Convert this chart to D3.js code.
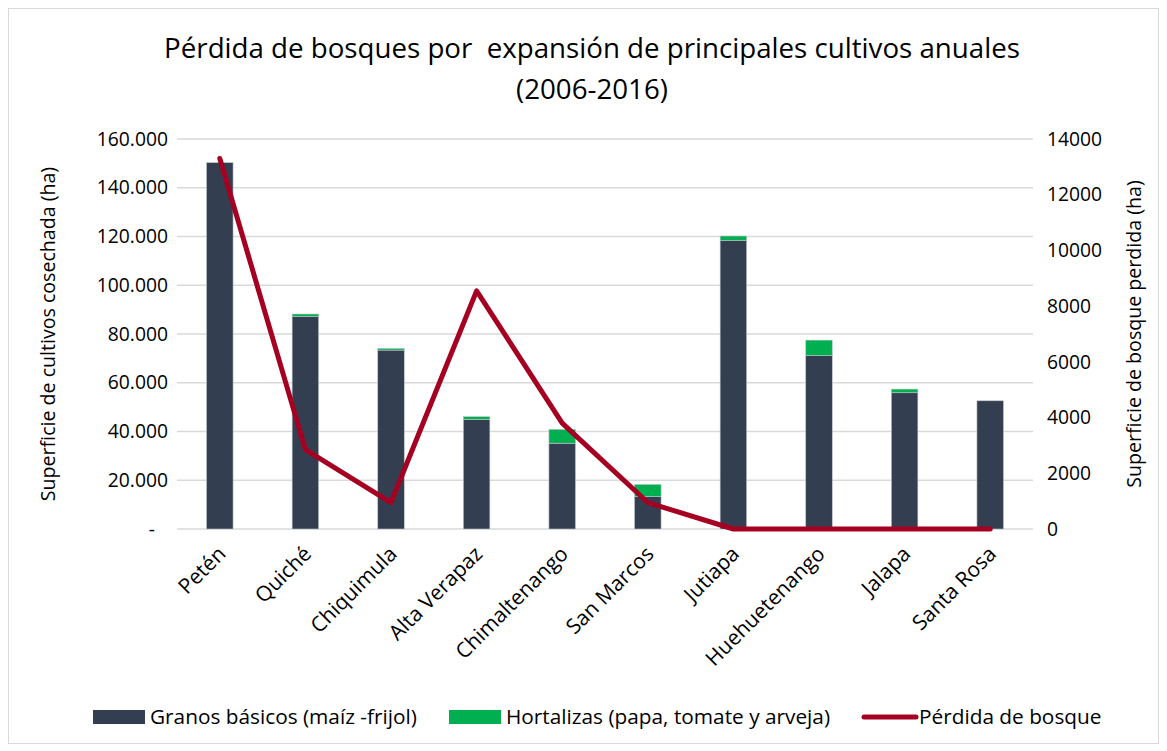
<!DOCTYPE html>
<html>
<head>
<meta charset="utf-8">
<script src="https://cdn.jsdelivr.net/npm/d3@7/dist/d3.min.js"></script>
<style>
  html, body { margin: 0; padding: 0; background: #fff; }
  svg { display: block; font-family: "Open Sans", Lato, sans-serif; }
</style>
</head>
<body>
<svg id="chart" width="1167" height="751"></svg>
<script>
// Departments, harvested area (ha) by crop group and forest loss (ha)
const categories = ["Petén", "Quiché", "Chiquimula", "Alta Verapaz", "Chimaltenango",
                    "San Marcos", "Jutiapa", "Huehuetenango", "Jalapa", "Santa Rosa"];
const granosBasicos = [150300, 87200, 73400, 45000, 35200, 13300, 118300, 71100, 55900, 52600];
const hortalizas    = [0, 1000, 700, 1100, 5700, 5000, 1900, 6400, 1500, 0];
const perdidaBosque = [13300, 2850, 950, 8550, 3800, 950, 0, 0, 0, 0];
const leftTicks  = [0, 20000, 40000, 60000, 80000, 100000, 120000, 140000, 160000];
const rightTicks = [0, 2000, 4000, 6000, 8000, 10000, 12000, 14000];
const seriesNames = ["Granos básicos (maíz -frijol)", "Hortalizas (papa, tomate y arveja)", "Pérdida de bosque"];

const colors = { granos: "#333F50", hort: "#00B050", line: "#A50021", grid: "#D9D9D9", text: "#000" };
const FONT = "'Open Sans', Lato, sans-serif";

const svg = d3.select("#chart");
const W = 1167, H = 751;
const plot = { left: 177, right: 1033, top: 139, bottom: 529 };

// Chart frame
svg.append("rect")
  .attr("x", 8.5).attr("y", 8.5).attr("width", W - 17).attr("height", H - 16)
  .attr("fill", "#fff").attr("stroke", "#D9D9D9").attr("stroke-width", 1);

const x = d3.scaleBand().domain(categories).range([plot.left, plot.right]).paddingInner(0.69).paddingOuter(0.345);
const yL = d3.scaleLinear().domain([0, 160000]).range([plot.bottom, plot.top]);
const yR = d3.scaleLinear().domain([0, 14000]).range([plot.bottom, plot.top]);

// Gridlines
svg.append("g").selectAll("line").data(leftTicks).join("line")
  .attr("x1", plot.left).attr("x2", plot.right)
  .attr("y1", d => yL(d)).attr("y2", d => yL(d))
  .attr("stroke", colors.grid).attr("stroke-width", 1.3);

// Left axis
const fmtL = d => d === 0 ? "-" : d3.format(",")(d).replace(/,/g, ".");
const axL = svg.append("g").attr("transform", `translate(${plot.left - 9},0)`)
  .call(d3.axisLeft(yL).tickValues(leftTicks).tickFormat(fmtL).tickSize(0).tickPadding(0));
axL.select(".domain").remove();
axL.selectAll("text").attr("font-size", 19.3).attr("fill", colors.text)
  .attr("font-family", FONT)
  .attr("dx", d => d === 0 ? -13 : 0);

// Right axis
const axR = svg.append("g").attr("transform", `translate(${plot.right + 14},0)`)
  .call(d3.axisRight(yR).tickValues(rightTicks).tickFormat(d3.format("d")).tickSize(0).tickPadding(0));
axR.select(".domain").remove();
axR.selectAll("text").attr("font-size", 19.3).attr("fill", colors.text).attr("font-family", FONT);

// Category axis labels (rotated)
const axX = svg.append("g").attr("transform", `translate(0,${plot.bottom})`)
  .call(d3.axisBottom(x).tickSize(0).tickPadding(0));
axX.select(".domain").remove();
axX.selectAll("text")
  .attr("font-size", 21).attr("fill", colors.text).attr("font-family", FONT)
  .attr("text-anchor", "end")
  .attr("transform", "translate(2,21) rotate(-45)")
  .attr("dy", "0.35em");

// Stacked bars
const stackData = categories.map((c, i) => ({ cat: c, granos: granosBasicos[i], hort: hortalizas[i] }));
const stacked = d3.stack().keys(["granos", "hort"])(stackData);
const fills = [colors.granos, colors.hort];
svg.append("g").selectAll("g").data(stacked).join("g")
  .attr("fill", (d, i) => fills[i])
  .selectAll("rect").data(d => d.filter(p => p[1] > p[0])).join("rect")
  .attr("x", d => x(d.data.cat))
  .attr("width", x.bandwidth())
  .attr("y", d => yL(d[1]))
  .attr("height", d => yL(d[0]) - yL(d[1]))
  .attr("stroke", "#BFC5CC").attr("stroke-width", 0.6);

// Forest loss line on the secondary axis
const line = d3.line()
  .x((d, i) => x(categories[i]) + x.bandwidth() / 2)
  .y(d => yR(d));
svg.append("path").datum(perdidaBosque)
  .attr("d", line)
  .attr("fill", "none").attr("stroke", colors.line).attr("stroke-width", 5)
  .attr("stroke-linejoin", "round").attr("stroke-linecap", "round");

// Title
const title = svg.append("text").attr("text-anchor", "middle").attr("font-size", 27.7)
  .attr("fill", colors.text).attr("font-family", FONT);
title.append("tspan").attr("x", 592).attr("y", 58)
  .style("white-space", "pre")
  .text("Pérdida de bosques por  expansión de principales cultivos anuales");
title.append("tspan").attr("x", 592).attr("y", 99).text("(2006-2016)");

// Axis titles
svg.append("text").attr("transform", `translate(55,${(plot.top + plot.bottom) / 2}) rotate(-90)`)
  .attr("text-anchor", "middle").attr("font-size", 19.6).attr("fill", colors.text)
  .text("Superficie de cultivos cosechada (ha)");
svg.append("text").attr("transform", `translate(1141,${(plot.top + plot.bottom) / 2}) rotate(-90)`)
  .attr("text-anchor", "middle").attr("font-size", 19.6).attr("fill", colors.text)
  .text("Superficie de bosque perdida (ha)");

// Legend
const legendY = 717;
const legendItems = [
  { name: seriesNames[0], type: "rect", color: colors.granos, x: 93 },
  { name: seriesNames[1], type: "rect", color: colors.hort, x: 449 },
  { name: seriesNames[2], type: "line", color: colors.line, x: 862 }
];
const lg = svg.append("g").selectAll("g").data(legendItems).join("g")
  .attr("transform", d => `translate(${d.x},${legendY})`);
lg.filter(d => d.type === "rect").append("rect")
  .attr("x", 0).attr("y", -7).attr("width", 52).attr("height", 14).attr("fill", d => d.color);
lg.filter(d => d.type === "line").append("line")
  .attr("x1", 2).attr("x2", 54).attr("y1", 0).attr("y2", 0)
  .attr("stroke", d => d.color).attr("stroke-width", 5).attr("stroke-linecap", "round");
lg.append("text").attr("x", 57).attr("y", 0).attr("dy", "0.35em")
  .attr("font-size", 20.8).attr("fill", colors.text).text(d => d.name);
</script>
</body>
</html>
